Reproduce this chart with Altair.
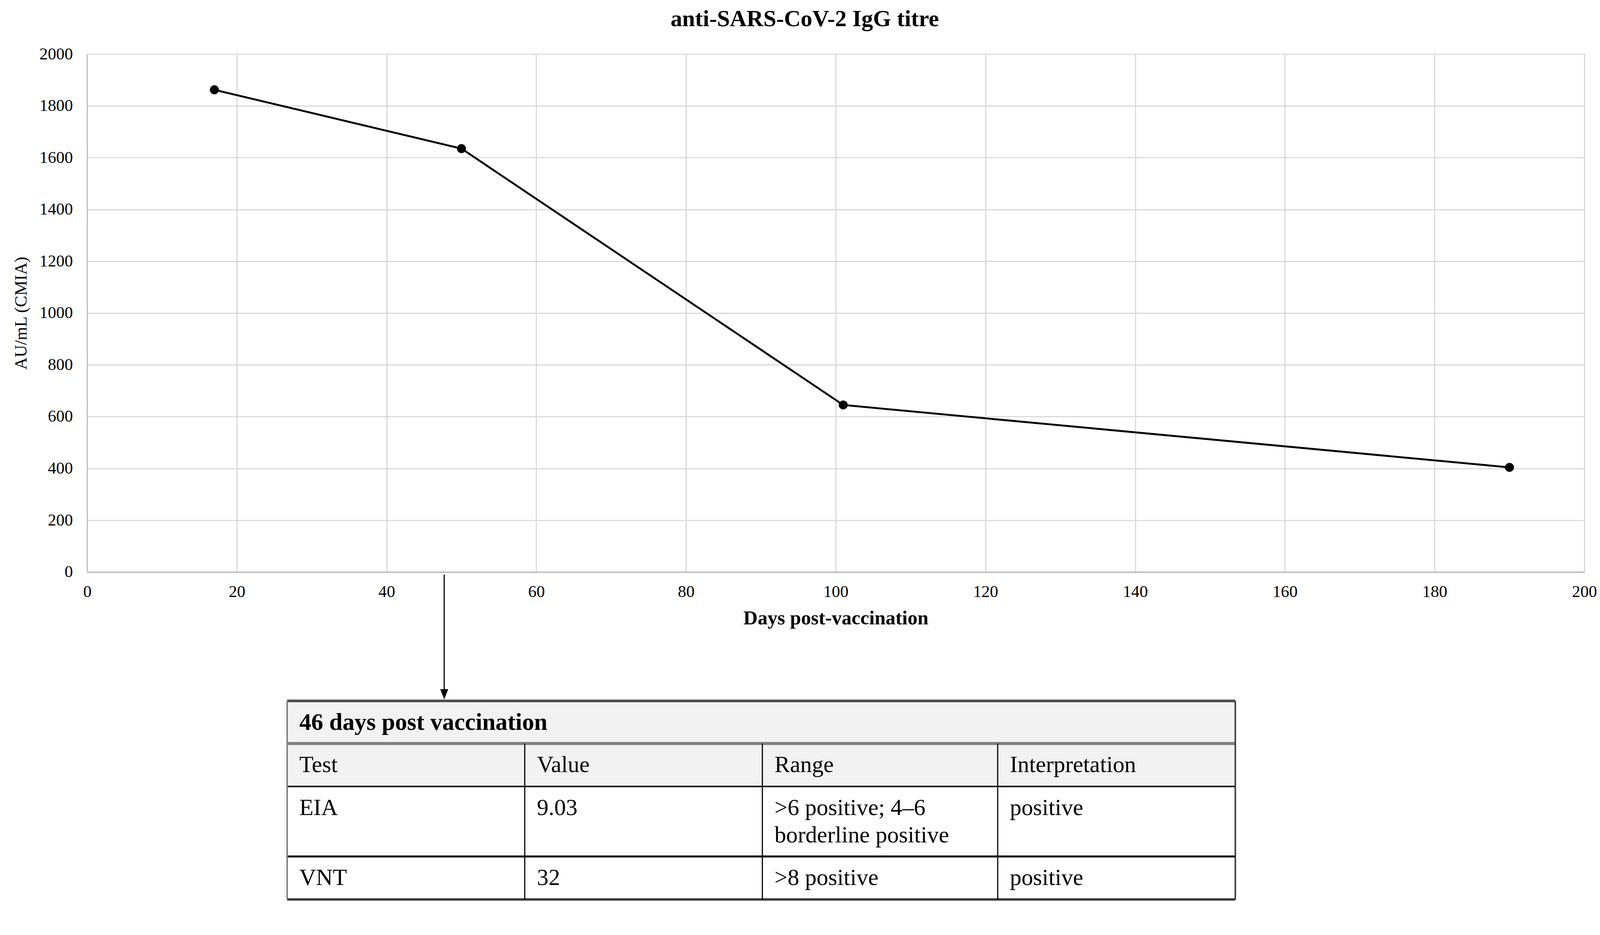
import altair as alt
import pandas as pd

# ---------------- data ----------------
days = [17, 50, 101, 190]
igg_titre = [1862, 1635, 645, 404]
x_ticks = [0, 20, 40, 60, 80, 100, 120, 140, 160, 180, 200]
y_ticks = [0, 200, 400, 600, 800, 1000, 1200, 1400, 1600, 1800, 2000]
arrow_day = [47.7]

chart_title = "anti-SARS-CoV-2 IgG titre"
x_title = "Days post-vaccination"
y_title = "AU/mL (CMIA)"

table_title = "46 days post vaccination"
table_header = ["Test", "Value", "Range", "Interpretation"]
table_rows = [
    ["EIA", "9.03", ">6 positive; 4\u20136\nborderline positive", "positive"],
    ["VNT", "32", ">8 positive", "positive"],
]

# ---------------- layout (pixels) ----------------
FONT = "Liberation Serif"
W, H = 3938, 1362            # plot area
ARROW_LEN = 335              # from x axis down to table top
COL_EDGES = [526, 1151, 1776, 2395, 3020]   # table columns, from plot left
ROW_EDGES = [0, 112, 225, 409, 522]          # table rows, from table top
TH = ROW_EDGES[-1]
PAD_X = 32
LINE_OFF = 57
LINE_GAP = 72
TFS = 61

# ---------------- top chart ----------------
df = pd.DataFrame({"day": days, "igg": igg_titre})
xs = alt.Scale(domain=[0, 200], nice=False, zero=False)
ys = alt.Scale(domain=[0, 2000], nice=False)

line = alt.Chart(df).mark_line(color="black", strokeWidth=5).encode(
    x=alt.X("day:Q", scale=xs,
            axis=alt.Axis(values=x_ticks, title=x_title, titleFontSize=52,
                          titleFontWeight="bold", labelPadding=30,
                          titlePadding=22, domainWidth=4, labelFlush=False,
                          format="d")),
    y=alt.Y("igg:Q", scale=ys,
            axis=alt.Axis(values=y_ticks, title=y_title, titleFontSize=45,
                          titleFontWeight="normal", labelPadding=38,
                          titlePadding=25, domainWidth=3, labelFlush=False,
                          format="d")),
)
pts = alt.Chart(df).mark_circle(color="black", size=560, opacity=1).encode(
    x="day:Q", y="igg:Q"
)
adf = pd.DataFrame({"day": arrow_day})
arrow_line = alt.Chart(adf).mark_rule(color="black", strokeWidth=3).encode(
    x="day:Q", y=alt.value(H + 7), y2=alt.value(H + ARROW_LEN - 20)
)
arrow_head = alt.Chart(adf).mark_point(
    shape="M -0.78 -1 L 0.78 -1 L 0 1 Z", filled=True, color="black",
    size=729, opacity=1, strokeWidth=0
).encode(x="day:Q", y=alt.value(H + ARROW_LEN - 13.5))

top = alt.layer(line, pts, arrow_line, arrow_head).properties(width=W, height=H)

# ---------------- table ----------------
L, R = COL_EDGES[0], COL_EDGES[-1]
fill_df = pd.DataFrame({
    "x": [L, L], "x2": [R, R],
    "y": [ROW_EDGES[0], ROW_EDGES[1]], "y2": [ROW_EDGES[1], ROW_EDGES[2]],
})
hl_df = pd.DataFrame({
    "x": [L] * 5, "x2": [R] * 5,
    "y": ROW_EDGES,
    "c": ["#4d4d4d", "#808080", "#000000", "#000000", "#3a3a3a"],
    "w": [7, 8, 4, 5, 6],
})
vl_df = pd.DataFrame({
    "x": COL_EDGES,
    "y": [0, ROW_EDGES[1], ROW_EDGES[1], ROW_EDGES[1], 0],
    "y2": [TH] * 5,
    "c": ["#808080", "#000000", "#000000", "#000000", "#3a3a3a"],
    "w": [4, 3, 3, 3, 4],
})

txt = []
for j, h in enumerate(table_header):
    txt.append({"x": COL_EDGES[j] + PAD_X, "y": ROW_EDGES[1] + LINE_OFF, "t": h})
for i, row in enumerate(table_rows):
    for j, cell in enumerate(row):
        for k, part in enumerate(cell.split("\n")):
            txt.append({"x": COL_EDGES[j] + PAD_X,
                        "y": ROW_EDGES[2 + i] + LINE_OFF + k * LINE_GAP, "t": part})
txt_df = pd.DataFrame(txt)
ttl_df = pd.DataFrame([{"x": L + PAD_X, "y": ROW_EDGES[0] + LINE_OFF, "t": table_title}])

txs = alt.Scale(domain=[0, W], nice=False, zero=False)
tys = alt.Scale(domain=[0, TH], nice=False, zero=False, reverse=True)
noax = None

fills = alt.Chart(fill_df).mark_rect(color="#f2f2f2").encode(
    x=alt.X("x:Q", scale=txs, axis=noax), x2="x2:Q",
    y=alt.Y("y:Q", scale=tys, axis=noax), y2="y2:Q",
)
hlines = alt.Chart(hl_df).mark_rule().encode(
    x=alt.X("x:Q", scale=txs, axis=noax), x2="x2:Q",
    y=alt.Y("y:Q", scale=tys, axis=noax),
    color=alt.Color("c:N", scale=None),
    strokeWidth=alt.StrokeWidth("w:Q", scale=None),
)
vlines = alt.Chart(vl_df).mark_rule().encode(
    x=alt.X("x:Q", scale=txs, axis=noax),
    y=alt.Y("y:Q", scale=tys, axis=noax), y2="y2:Q",
    color=alt.Color("c:N", scale=None),
    strokeWidth=alt.StrokeWidth("w:Q", scale=None),
)
texts = alt.Chart(txt_df).mark_text(
    align="left", baseline="middle", font=FONT, fontSize=TFS, color="black"
).encode(
    x=alt.X("x:Q", scale=txs, axis=noax),
    y=alt.Y("y:Q", scale=tys, axis=noax),
    text="t:N",
)
ttext = alt.Chart(ttl_df).mark_text(
    align="left", baseline="middle", font=FONT, fontSize=63, color="black",
    fontWeight="bold"
).encode(
    x=alt.X("x:Q", scale=txs, axis=noax),
    y=alt.Y("y:Q", scale=tys, axis=noax),
    text="t:N",
)
table = alt.layer(fills, hlines, vlines, texts, ttext).properties(width=W, height=TH)

chart = alt.vconcat(top, table, spacing=0).properties(
    title=alt.TitleParams(chart_title, font=FONT, fontSize=61, fontWeight="bold",
                          color="black", anchor="middle", offset=38),
    padding={"left": 25, "top": -20, "right": 0, "bottom": 0},
).configure_view(stroke=None).configure_axis(
    labelFont=FONT, labelFontSize=44, labelColor="black",
    titleFont=FONT, titleColor="black",
    ticks=False, tickSize=0,
    gridColor="#d9d9d9", gridWidth=3,
    domainColor="#bfbfbf",
)

chart.save("out.html", embed_options={"renderer": "svg", "actions": False})
